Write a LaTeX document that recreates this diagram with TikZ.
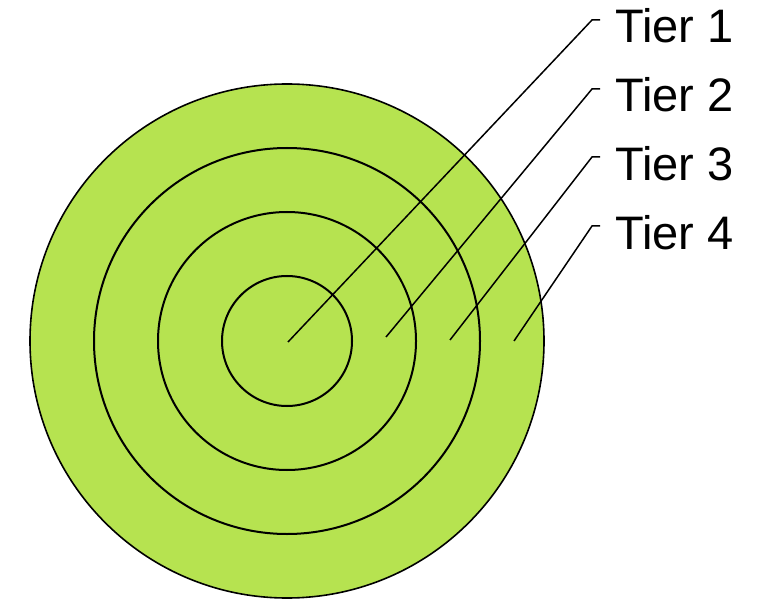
\documentclass[tikz,border=0pt]{standalone}
\usepackage{fontspec}
\setmainfont{Liberation Sans}
\definecolor{ringgreen}{RGB}{182,227,80}
\begin{document}
\begin{tikzpicture}[x=1pt,y=-1pt,
  ring/.style={draw=black,line width=2pt},
  outerring/.style={draw=black,line width=1.6pt},
  leader/.style={draw=black,line width=1.5pt},
  tierlabel/.style={anchor=base west,inner sep=0pt,font=\fontsize{47}{50}\selectfont}]
\useasboundingbox (0,0) rectangle (762,601);
\coordinate (c) at (287,341);
\fill[ringgreen] (c) circle[radius=257];
\draw[outerring] (c) circle[radius=257];
\draw[ring] (c) circle[radius=193];
\draw[ring] (c) circle[radius=129];
\draw[ring] (c) circle[radius=65];
% labels
\node[tierlabel] (t1) at (615,43) {Tier 1};
\node[tierlabel] (t2) at (615,112) {Tier 2};
\node[tierlabel] (t3) at (615,181) {Tier 3};
\node[tierlabel] (t4) at (615,250) {Tier 4};
% leader points
\coordinate (s1) at (288,342); \coordinate (b1) at (592,20); \coordinate (e1) at (600,20);
\coordinate (s2) at (386,337); \coordinate (b2) at (592,89); \coordinate (e2) at (600,89);
\coordinate (s3) at (450,340); \coordinate (b3) at (592,157); \coordinate (e3) at (600,157);
\coordinate (s4) at (514,341); \coordinate (b4) at (592,226); \coordinate (e4) at (600,226);
\draw[leader] (s1) -- (b1) -- (e1);
\draw[leader] (s2) -- (b2) -- (e2);
\draw[leader] (s3) -- (b3) -- (e3);
\draw[leader] (s4) -- (b4) -- (e4);
\end{tikzpicture}
\end{document}
